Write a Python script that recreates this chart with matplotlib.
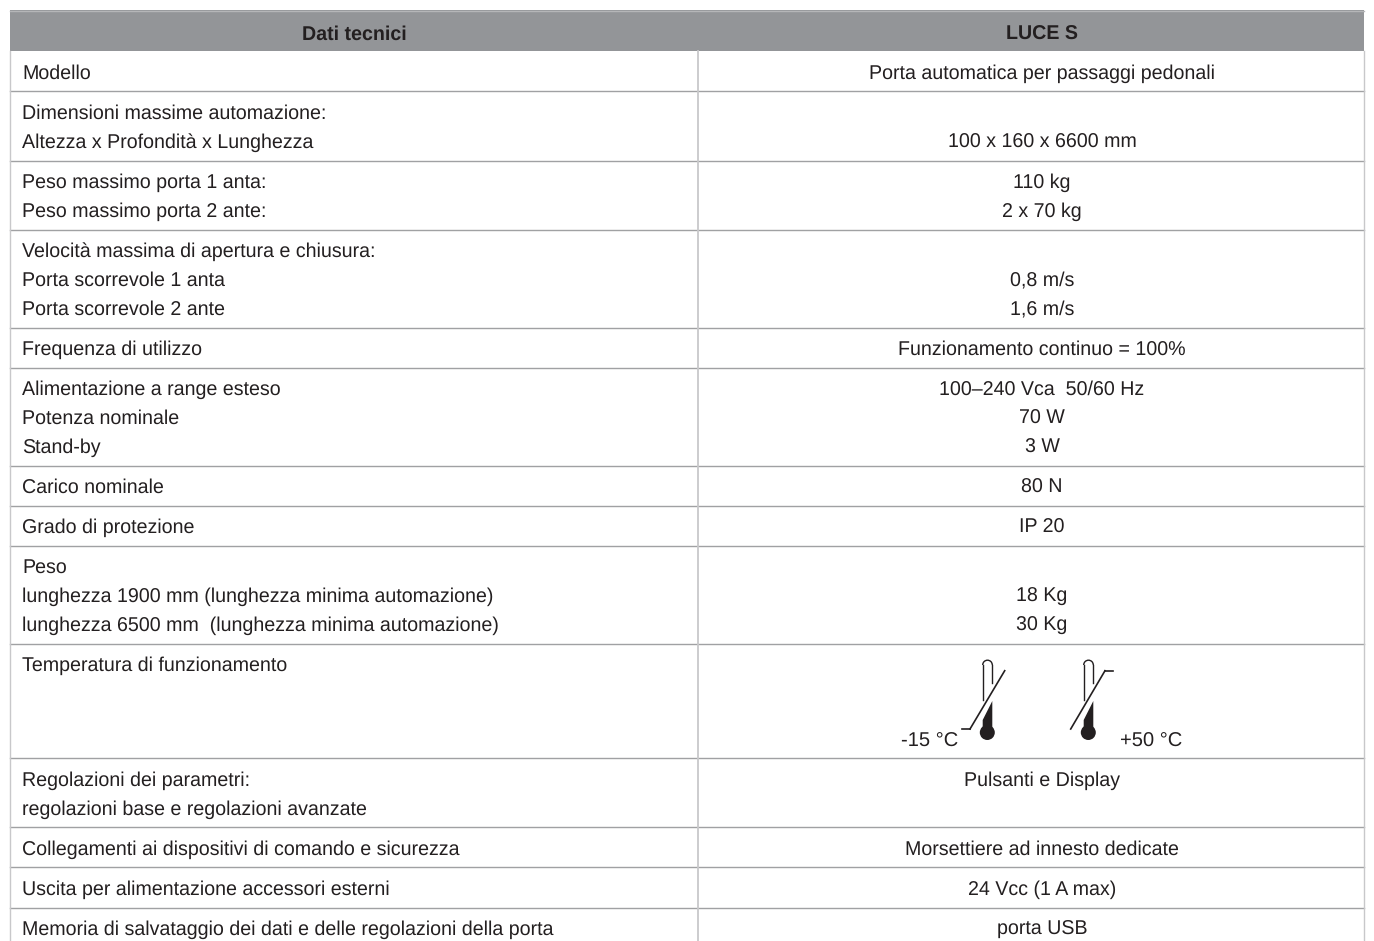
import matplotlib
matplotlib.use("Agg")
import matplotlib.pyplot as plt
from matplotlib.patches import Circle, Polygon, Arc

header = ["Dati tecnici", "LUCE S"]
row_lines = [51, 91, 161, 230, 328, 368, 466, 506, 546, 644, 758, 827, 867, 908]

# (y centre, text)
left_text = [
    (72, "Modello"),
    (112, "Dimensioni massime automazione:"),
    (141, "Altezza x Profondità x Lunghezza"),
    (181, "Peso massimo porta 1 anta:"),
    (210, "Peso massimo porta 2 ante:"),
    (250, "Velocità massima di apertura e chiusura:"),
    (279, "Porta scorrevole 1 anta"),
    (308, "Porta scorrevole 2 ante"),
    (348, "Frequenza di utilizzo"),
    (388, "Alimentazione a range esteso"),
    (417, "Potenza nominale"),
    (446, "Stand-by"),
    (486, "Carico nominale"),
    (526, "Grado di protezione"),
    (566, "Peso"),
    (595, "lunghezza 1900 mm (lunghezza minima automazione)"),
    (624, "lunghezza 6500 mm  (lunghezza minima automazione)"),
    (664, "Temperatura di funzionamento"),
    (779, "Regolazioni dei parametri:"),
    (808, "regolazioni base e regolazioni avanzate"),
    (848, "Collegamenti ai dispositivi di comando e sicurezza"),
    (888, "Uscita per alimentazione accessori esterni"),
    (928, "Memoria di salvataggio dei dati e delle regolazioni della porta"),
]
right_text = [
    (72, "Porta automatica per passaggi pedonali"),
    (141, "100 x 160 x 6600 mm"),
    (181, "110 kg"),
    (210, "2 x 70 kg"),
    (279, "0,8 m/s"),
    (308, "1,6 m/s"),
    (348, "Funzionamento continuo = 100%"),
    (388, "100–240 Vca  50/60 Hz"),
    (417, "70 W"),
    (446, "3 W"),
    (486, "80 N"),
    (526, "IP 20"),
    (595, "18 Kg"),
    (624, "30 Kg"),
    (779, "Pulsanti e Display"),
    (848, "Morsettiere ad innesto dedicate"),
    (888, "24 Vcc (1 A max)"),
    (928, "porta USB"),
]

plt.rcParams["font.family"] = "Liberation Sans"
plt.rcParams["text.hinting"] = "none"
fs = 14.1
ink = "#231f20"

fig = plt.figure(figsize=(13.74, 9.41), dpi=100)
ax = fig.add_axes([0, 0, 1, 1])
ax.set_xlim(0, 1374)
ax.set_ylim(941, 0)
ax.axis("off")

L, M, R = 10, 698, 1364
ax.fill_between([L, R], 10, 51, color="#939598", lw=0)
ax.plot([L, R], [10.5, 10.5], color="#b5b6b8", lw=1)
for y in row_lines[1:]:
    ax.plot([L, R], [y, y], color="#a0a1a3", lw=1)
ax.plot([M, M], [51, 941], color="#c8c8ca", lw=1.3)
ax.plot([L, L], [51, 941], color="#c8c8ca", lw=1)
ax.plot([R, R], [51, 941], color="#c8c8ca", lw=1)

ax.text(354, 39.5, header[0], ha="center", va="baseline", fontsize=fs, fontweight="bold", color=ink)
ax.text(1041.5, 39.5, header[1], ha="center", va="baseline", fontsize=fs, fontweight="bold", color=ink)
for y, s in left_text:
    ax.text(22, y + 7, s, ha="left", va="baseline", fontsize=fs, color=ink)
for y, s in right_text:
    ax.text(1042, y + 7, s, ha="center", va="baseline", fontsize=fs, color=ink)

# thermometer symbols
def thermo(dx, slant, tick):
    ax.add_patch(Circle((987.3 + dx, 732.5), 7.5, color=ink, lw=0))
    ax.add_patch(Polygon([(982.7 + dx, 720), (992.3 + dx, 701), (992.3 + dx, 730), (982.7 + dx, 730)], color=ink, lw=0))
    ax.plot([982.7 + dx, 982.7 + dx], [665, 700], color=ink, lw=1)
    ax.plot([992.3 + dx, 992.3 + dx], [665, 683], color=ink, lw=1)
    ax.add_patch(Arc((987.5 + dx, 665), 9.6, 9.6, theta1=180, theta2=360, color=ink, lw=1))
    ax.plot(slant[0], slant[1], color=ink, lw=1.2)
    ax.plot(tick[0], tick[1], color=ink, lw=1.2)

thermo(0, ([970, 1004.7], [729, 670.7]), ([962, 970], [729, 729]))
thermo(101, ([1070.7, 1105], [729, 670.7]), ([1105, 1113], [670.7, 670.7]))
ax.text(901, 746.5, "-15 °C", ha="left", va="baseline", fontsize=14.5, color=ink)
ax.text(1120, 746.5, "+50 °C", ha="left", va="baseline", fontsize=14.5, color=ink)

fig.savefig("out.png", dpi=100)
